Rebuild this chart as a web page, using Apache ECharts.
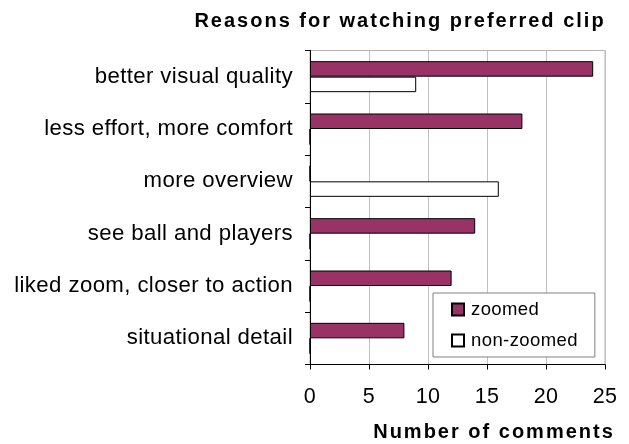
<!DOCTYPE html>
<html><head><meta charset="utf-8">
<script src="https://cdn.jsdelivr.net/npm/echarts@6/dist/echarts.min.js"></script>
<style>html,body{margin:0;padding:0;background:#fff}#c{width:629px;height:444px}</style>
</head><body><div id="c"></div>
<script>
// --- data ---
const categories = ['better visual quality','less effort, more comfort','more overview','see ball and players','liked zoom, closer to action','situational detail'];
const zoomed = [24, 18, 0, 14, 12, 8];
const nonZoomed = [9, 0, 16, 0, 0, 0];
const xTicks = [0, 5, 10, 15, 20, 25];
const titleText = 'Reasons for watching preferred clip';
const xName = 'Number of comments';

// wider glyph spacing, as in the reference rendering
(function(){
  const P = CanvasRenderingContext2D.prototype;
  if (!('letterSpacing' in P)) return;
  const f = P.fillText;
  P.fillText = function(t,x,y,m){
    this.letterSpacing = /bold/.test(this.font) ? '2px' : '0.4px';
    const r = m === undefined ? f.call(this,t,x,y) : f.call(this,t,x,y,m);
    this.letterSpacing = '0px';
    return r;
  };
})();

const FF = '"Liberation Sans", Arial, sans-serif';
const chart = echarts.init(document.getElementById('c'), null, {renderer:'canvas'});
chart.setOption({
  animation: false,
  backgroundColor: '#fff',
  textStyle: {fontFamily: FF},
  title: [
    {text: titleText, left: 400, top: 11, textAlign: 'center', padding: 0,
     textStyle: {fontSize: 20, fontWeight: 'bold', color: '#000', fontFamily: FF}},
    {text: xName, left: 494, top: 422, textAlign: 'center', padding: 0,
     textStyle: {fontSize: 20, fontWeight: 'bold', color: '#000', fontFamily: FF}}
  ],
  legend: {
    orient: 'vertical', left: 433, top: 293,
    padding: [7, 21, 7, 18],
    itemWidth: 12, itemHeight: 12, itemGap: 12,
    icon: 'rect',
    borderColor: '#808080', borderWidth: 1, backgroundColor: '#fff',
    textStyle: {fontSize: 18.5, color: '#000', fontFamily: FF, padding: [0,0,0,2]},
    data: ['zoomed', 'non-zoomed']
  },
  grid: {left: 310, right: 24, top: 50.5, bottom: 79.5, show: true, borderColor: '#b4b4b4', borderWidth: 1, containLabel: false},
  xAxis: {
    type: 'value', min: xTicks[0], max: xTicks[xTicks.length-1], interval: xTicks[1]-xTicks[0],
    axisLine: {show: true, lineStyle: {color: '#000', width: 1}},
    axisTick: {show: true, inside: false, length: 5, lineStyle: {color: '#000'}},
    axisLabel: {fontSize: 21.5, color: '#000', margin: 22, fontFamily: FF},
    splitLine: {show: true, lineStyle: {color: '#c0c0c0', width: 1}}
  },
  yAxis: {
    type: 'category', data: categories, inverse: true,
    axisLine: {show: true, lineStyle: {color: '#000', width: 1}},
    axisTick: {show: true, inside: false, length: 5, lineStyle: {color: '#000'}},
    axisLabel: {fontSize: 22.2, color: '#000', margin: 17, fontFamily: FF},
    splitLine: {show: false}
  },
  series: [
    {name: 'zoomed', type: 'bar', data: zoomed, barWidth: 15.5, barGap: '0%',
     itemStyle: {color: '#993366', borderColor: '#000', borderWidth: 1}},
    {name: 'non-zoomed', type: 'bar', data: nonZoomed, barWidth: 15.5, barGap: '0%',
     itemStyle: {color: '#ffffff', borderColor: '#000', borderWidth: 1}}
  ]
});
</script></body></html>
